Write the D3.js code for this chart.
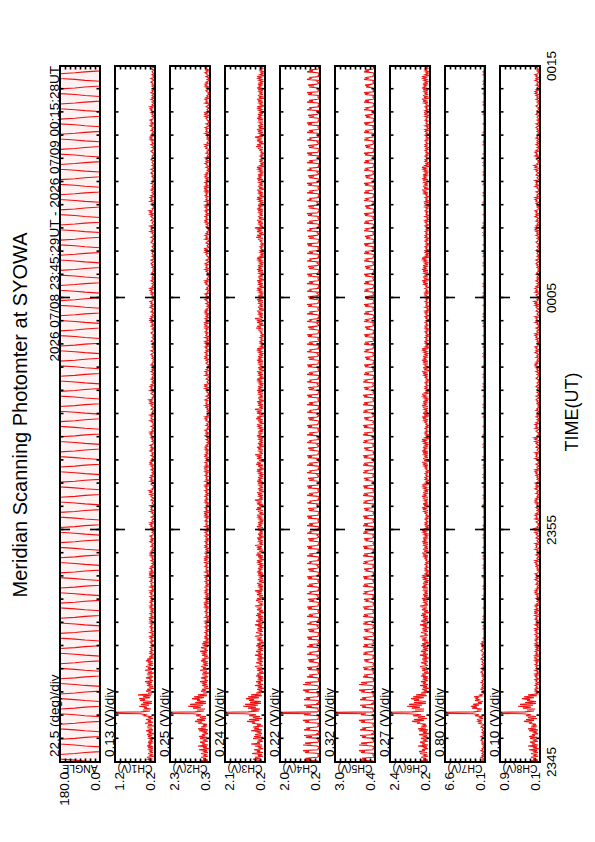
<!DOCTYPE html>
<html><head><meta charset="utf-8">
<script src="https://cdn.jsdelivr.net/npm/d3@7"></script>
<style>
html,body{margin:0;padding:0;background:#fff}
svg{display:block}
text{font-family:"Liberation Sans",Arial,Helvetica,sans-serif;fill:#000}
</style>
</head><body>
<svg id="page" width="595" height="842"></svg>
<script>
// ---------- DATA ----------
const titleText = "Meridian Scanning Photomter at SYOWA";
const rangeText = "2026 07/08 23:45:29UT - 2026 07/09 00:15:28UT";
const timeTickMinutes = [0, 10, 20, 30];          // minutes after 23:45 UT
const timeTickLabels = ["2345", "2355", "0005", "0015"];
const panelNames = ["ANGLE", "CH1(V)", "CH2(V)", "CH3(V)", "CH4(V)", "CH5(V)", "CH6(V)", "CH7(V)", "CH8(V)"];
const panelMin = [0.0, 0.2, 0.3, 0.2, 0.2, 0.4, 0.2, 0.1, 0.1];
const panelMax = [180.0, 1.2, 2.3, 2.1, 2.0, 3.0, 2.4, 6.6, 0.9];
const panelMinLabels = ["0.0", "0.2", "0.3", "0.2", "0.2", "0.4", "0.2", "0.1", "0.1"];
const panelMaxLabels = ["180.0", "1.2", "2.3", "2.1", "2.0", "3.0", "2.4", "6.6", "0.9"];
const divLabels = ["22.5 (deg)/div", "0.13 (V)/div", "0.25 (V)/div", "0.24 (V)/div", "0.22 (V)/div",
                   "0.32 (V)/div", "0.27 (V)/div", "0.80 (V)/div", "0.10 (V)/div"];
const sampleStepSec = 2.445;   // sampling interval of the records (s)
// scan angle, one code per sample, code x 22.5 deg (fast sweep, dwell at each horizon)
const angleCodes =
 "0358888885300000035888888530000003588888853000000358888885300000" +
 "0358888885300000035888888530000003588888853000000358888885300000" +
 "0358888885300000035888888530000003588888853000000358888885300000" +
 "0358888885300000035888888530000003588888853000000358888885300000" +
 "0358888885300000035888888530000003588888853000000358888885300000" +
 "0358888885300000035888888530000003588888853000000358888885300000" +
 "0358888885300000035888888530000003588888853000000358888885300000" +
 "0358888885300000035888888530000003588888853000000358888885300000" +
 "0358888885300000035888888530000003588888853000000358888885300000" +
 "0358888885300000035888888530000003588888853000000358888885300000" +
 "0358888885300000035888888530000003588888853000000358888885300000" +
 "03588888853000000358888885300000";
// photometer channels, one base-36 count per sample; 1 count = 1/40 of panel full scale, '#' = saturated
const ch1Codes =
 "26374815372536272846372536274816" + "492638173a274926" + "4b9f#e5c" + "4b8g6e3c3fag5c4h" +
 "3729481628473a25492638173a27492637294816" +
 "241535243524143514352513251434253425153615243514" +
 "241535243524143514352513251434253425153615243514" +
 "213124132415352413214231352414352213132414352513312412132514342512321431342515362312134215243514" +
 "213124132415352413214231352414352213132414352513312412132514342512321431342515362312134215243514" +
 "21312413" +
 "213124131321423122131324312412131232143123121342" +
 "213124132415352413214231352414352213132414352513" +
 "213124131321423122131324312412131232143123121342" +
 "312412132514342512321431342515362312134215243514" +
 "213124131321423122131324312412131232143123121342" +
 "213124132415352413214231352414352213132414352513" +
 "2131241313214231221313243124121312321431";
const ch2Codes =
 "3a27492649263b173c285a264a3b58263b2c4937" + "3c8f5d4a" + "4e9h#f6d" + "5h9m7k4f" + "4dai6g3c" +
 "3729481628473a25492638173a2749263729481628473a2549263817" +
 "241535243524143514352513251434253425153615243514" +
 "241535243524143514352513251434253425153615243514" +
 "241535243524143514352513251434253425153615243514" +
 "241535243524143514352513251434253425153615243514" +
 "24153524" +
 "241535242131241335241435132142311435251322131324251434253124121334251536123214311524351423121342" +
 "241535243524143514352513251434253425153615243514" +
 "241535242131241335241435132142311435251322131324251434253124121334251536123214311524351423121342" +
 "241535243524143514352513251434253425153615243514" +
 "241535242131241335241435132142311435251322131324251434253124121334251536123214311524351423121342" +
 "241535242131241335241435";
const ch3Codes =
 "4b3c5a273d285b264a3e58263c2b4a374e3b6c28" + "4dai6g3c" + "5g9k#h6e" + "5h9m7k4f" + "4gbj6h3e" +
 "492638173a2749263729481628473a25" +
 "492638173a2749263729481628473a25" +
 "492638173a2749263729481628473a25" +
 "3729481628473a2536274816372536272846372526374815" +
 "3729481628473a2536274816372536272846372526374815" +
 "3729481628473a2536274816372536272846372526374815" +
 "3729481628473a2536274816372536272846372526374815" +
 "3729481628473a2536274816372536272846372526374815" +
 "362748163725362728463725263748152415352435241435" +
 "3729481628473a2536274816372536272846372526374815" +
 "362748163725362728463725263748152415352435241435" +
 "3729481628473a2536274816372536272846372526374815" +
 "362748163725362728463725263748152415352435241435" +
 "3729481628473a2536274816372536272846372526374815" +
 "3627481637253627284637252637481524153524";
const ch4Codes =
 "12gae31221fbh22113h9f21222e8g13112gae31221fbh221" + "12g9#312" + "22e8g13112gae31221fbh22113h9f212" +
 "12d7b21221c8d22112b6c31231d9a121" + "12d7b21221c8d22112b6c31231d9a121" +
 "12d7b21221c8d22112b6c31231d9a121" + "12d7b21221c8d22112b6c31231d9a121" +
 "12d7b21221c8d22112b6c31231d9a121" + "12d7b21221c8d22112b6c31231d9a121" +
 "12d7b21221c8d22112b6c31231d9a121" + "12d7b21221c8d22112b6c31231d9a121" +
 "12d7b21221c8d22112b6c31231d9a121" + "12d7b21221c8d22112b6c31231d9a121" +
 "12d7b21221c8d22112b6c31231d9a121" + "12d7b21221c8d22112b6c31231d9a121" +
 "12d7b21221c8d22112b6c31231d9a121" + "12d7b21221c8d22112b6c31231d9a121" +
 "12d7b21221c8d22112b6c31231d9a121" + "12d7b21221c8d22112b6c31231d9a121" +
 "12d7b21221c8d22112b6c31231d9a121" + "12d7b21221c8d22112b6c31231d9a121" +
 "12d7b21221c8d22112b6c31231d9a121" + "12d7b21221c8d22112b6c31231d9a121" +
 "12d7b212";
const ch5Codes =
 "12f9d21221eag22113g8e21222d9f13112f9d21221eag221" + "12e9#212" + "22d9f13112f9d21221eag22113g8e212" +
 "12c7b21221b8c2121297b31221c8a221" + "12c7b21221b8c2121297b31221c8a221" +
 "12c7b21221b8c2121297b31221c8a221" + "12c7b21221b8c2121297b31221c8a221" +
 "12c7b21221b8c2121297b31221c8a221" + "12c7b21221b8c2121297b31221c8a221" +
 "12c7b21221b8c2121297b31221c8a221" + "12c7b21221b8c2121297b31221c8a221" +
 "12c7b21221b8c2121297b31221c8a221" + "12c7b21221b8c2121297b31221c8a221" +
 "12b6a21221a7b1211296a31221b79221" + "12b6a21221a7b1211296a31221b79221" +
 "12b6a21221a7b1211296a31221b79221" + "12b6a21221a7b1211296a31221b79221" +
 "12b6a21221a7b1211296a31221b79221" + "12b6a21221a7b1211296a31221b79221" +
 "12b6a21221a7b1211296a31221b79221" + "12b6a21221a7b1211296a31221b79221" +
 "12b6a21221a7b1211296a31221b79221" + "12b6a21221a7b1211296a31221b79221" +
 "12b6a212";
const ch6Codes =
 "3a2749264a3b58263c285a2649263b173b2c4937" + "4dai6g3c" + "5h9l#i6f" + "6ian8l4g" + "4gbj6h3e" +
 "492638173a2749263729481628473a25" +
 "492638173a2749263729481628473a25" +
 "492638173a2749263729481628473a25" +
 "362748163725362728463725263748152415352435241435" +
 "362748163725362728463725263748152415352435241435" +
 "362748163725362728463725263748152415352435241435" +
 "362748163725362728463725263748152415352435241435" +
 "362748163725362728463725263748152415352435241435" +
 "362748163725362728463725263748152415352435241435" +
 "241535243524143514352513251434253425153615243514" +
 "362748163725362728463725263748152415352435241435" +
 "241535243524143514352513251434253425153615243514" +
 "362748163725362728463725263748152415352435241435" +
 "241535243524143514352513251434253425153615243514" +
 "3627481637253627284637252637481524153524";
const ch7Codes =
 "2131241313214231221313243124121312321431" + "27374825" + "3a6c#b48" + "3d8e6c37" + "2a697b35" +
 "213124131321423122131324312412131232143123121342" + "21312413" +
 "11121111111112112111111211211111" + "11121111111112112111111211211111" +
 "11121111111112112111111211211111" + "11121111111112112111111211211111" +
 "11121111111112112111111211211111" + "11121111111112112111111211211111" +
 "11121111111112112111111211211111" + "11121111111112112111111211211111" +
 "11121111111112112111111211211111" + "11121111111112112111111211211111" +
 "11121111111112112111111211211111" + "11121111111112112111111211211111" +
 "11121111111112112111111211211111" + "11121111111112112111111211211111" +
 "11121111111112112111111211211111" + "11121111111112112111111211211111" +
 "11121111111112112111111211211111" + "11121111111112112111111211211111" +
 "11121111111112112111111211211111";
const ch8Codes =
 "3a27492649263b173c285a264a3b58263b2c4937" + "4b8g6e3c" + "4e9h#f6d" + "5h9m7k4f" + "4dai6g3c" +
 "241535243524143514352513251434253425153615243514" +
 "241535243524143514352513251434253425153615243514" +
 "213124132415352413214231352414352213132414352513312412132514342512321431342515362312134215243514" +
 "213124132415352413214231352414352213132414352513312412132514342512321431342515362312134215243514" +
 "213124131321423122131324312412131232143123121342" +
 "213124132415352413214231352414352213132414352513312412132514342512321431342515362312134215243514" +
 "213124131321423122131324312412131232143123121342" +
 "213124132415352413214231352414352213132414352513312412132514342512321431342515362312134215243514" +
 "213124131321423122131324312412131232143123121342" +
 "2131241324153524132142313524143522131324";
const channelCodes = [ch1Codes, ch2Codes, ch3Codes, ch4Codes, ch5Codes, ch6Codes, ch7Codes, ch8Codes];

// ---------- LAYOUT ----------
const plotLeft = 80, plotRight = 776;
const panelTop0 = 60, panelStep = 55, panelH = 40;
const red = "#f01010";

const svg = d3.select("#page");
const g = svg.append("g").attr("transform", "translate(0,842) rotate(-90)");

const x = d3.scaleLinear().domain([0, 30]).range([plotLeft, plotRight]);

function decode(str) {
  return Array.from(str).map(c => c === "#" ? 80 : parseInt(c, 36));
}
const angleSeries = decode(angleCodes).map((n, i) => ({t: i * sampleStepSec / 60, v: n * 22.5}));
const chSeries = channelCodes.map((s, ci) => {
  const lo = panelMin[ci + 1], hi = panelMax[ci + 1];
  return decode(s).map((n, i) => ({t: i * sampleStepSec / 60, v: lo + n * (hi - lo) / 40}));
});
const allSeries = [angleSeries, ...chSeries];

const defs = g.append("defs");

g.append("text").attr("x", 427).attr("y", 27).attr("text-anchor", "middle")
  .style("font-size", "20px").text(titleText);

panelNames.forEach((name, pi) => {
  const top = panelTop0 + pi * panelStep;
  const y = d3.scaleLinear().domain([panelMin[pi], panelMax[pi]]).range([top + panelH, top]);
  const pg = g.append("g");

  defs.append("clipPath").attr("id", "clip" + pi).append("rect")
    .attr("x", plotLeft).attr("y", top).attr("width", plotRight - plotLeft).attr("height", panelH);

  if (pi === 0) {
    pg.append("rect").attr("x", plotLeft).attr("y", top).attr("width", plotRight - plotLeft)
      .attr("height", panelH).attr("fill", "#fdf1f1");
  }

  const line = d3.line().x(d => x(d.t)).y(d => y(d.v));
  pg.append("path").datum(allSeries[pi]).attr("d", line)
    .attr("clip-path", `url(#clip${pi})`)
    .attr("fill", "none").attr("stroke", red).attr("stroke-width", 1.1);

  const minor = d3.range(1, 30);
  const axT = pg.append("g").attr("transform", `translate(0,${top})`)
    .call(d3.axisBottom(x).tickValues(minor).tickSize(3.5).tickFormat(""));
  const axB = pg.append("g").attr("transform", `translate(0,${top + panelH})`)
    .call(d3.axisTop(x).tickValues(minor).tickSize(3.5).tickFormat(""));
  const axTM = pg.append("g").attr("transform", `translate(0,${top})`)
    .call(d3.axisBottom(x).tickValues([10, 20]).tickSize(10).tickFormat(""));
  const axBM = pg.append("g").attr("transform", `translate(0,${top + panelH})`)
    .call(d3.axisTop(x).tickValues([10, 20]).tickSize(10).tickFormat(""));
  const step = (panelMax[pi] - panelMin[pi]) / 8;
  const vt = d3.range(1, 8).map(k => panelMin[pi] + k * step);
  const axL = pg.append("g").attr("transform", `translate(${plotLeft},0)`)
    .call(d3.axisRight(y).tickValues(vt).tickSize(3.5).tickFormat(""));
  const axR = pg.append("g").attr("transform", `translate(${plotRight},0)`)
    .call(d3.axisLeft(y).tickValues(vt).tickSize(3.5).tickFormat(""));
  [axT, axB, axTM, axBM, axL, axR].forEach(a => {
    a.select(".domain").remove();
    a.selectAll("line").attr("stroke", "#000").attr("stroke-width", 1.6);
  });

  pg.append("rect").attr("x", plotLeft).attr("y", top).attr("width", plotRight - plotLeft)
    .attr("height", panelH).attr("fill", "none").attr("stroke", "#000").attr("stroke-width", 2);

  pg.append("text").attr("x", 85).attr("y", top - 1).style("font-size", "13.5px").text(divLabels[pi]);
  pg.append("text").attr("x", 70).attr("y", top + 9).attr("text-anchor", "end")
    .style("font-size", "13.5px").text(panelMaxLabels[pi]);
  pg.append("text").attr("x", 70).attr("y", top + panelH).attr("text-anchor", "end")
    .style("font-size", "13.5px").text(panelMinLabels[pi]);
  pg.append("text").attr("transform", `translate(77,${top + panelH / 2}) rotate(-90)`)
    .attr("text-anchor", "middle").style("font-size", "10.5px").text(name);
});

g.append("text").attr("x", plotRight).attr("y", 59).attr("text-anchor", "end")
  .style("font-size", "13.5px").text(rangeText);

timeTickMinutes.forEach((m, i) => {
  g.append("text").attr("x", x(m)).attr("y", 556).attr("text-anchor", "middle")
    .style("font-size", "13.5px").text(timeTickLabels[i]);
});
g.append("text").attr("x", 430).attr("y", 578).attr("text-anchor", "middle")
  .style("font-size", "18px").text("TIME(UT)");
</script>
</body></html>
